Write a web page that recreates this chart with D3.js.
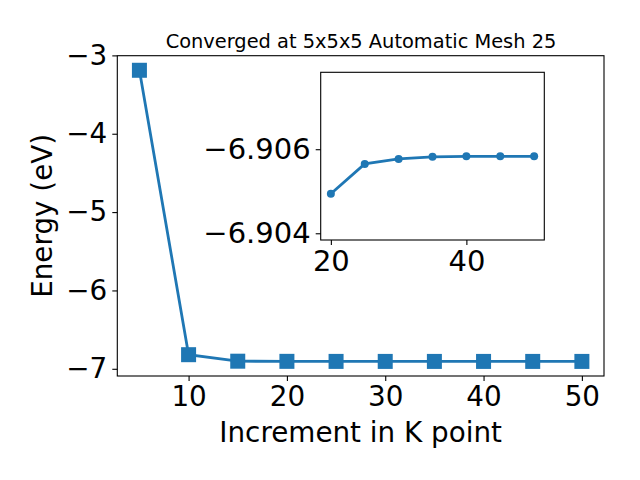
<!DOCTYPE html>
<html>
<head>
<meta charset="utf-8">
<script src="https://cdn.jsdelivr.net/npm/d3@7"></script>
<style>
body { margin: 0; background: #fff; }
text { font-family: "DejaVu Sans", sans-serif; fill: #000; }
</style>
</head>
<body>
<script>
// k-point increments and total energies
var kpoints = [5, 10, 15, 20, 25, 30, 35, 40, 45, 50];
var energy = [-3.19, -6.82, -6.903, -6.90494, -6.90565, -6.90577, -6.90582, -6.90583, -6.90583, -6.90583];

// inset: zoomed view from 20 onwards
var insetK = [20, 25, 30, 35, 40, 45, 50];
var insetE = [-6.90494, -6.90565, -6.90577, -6.90582, -6.90583, -6.90583, -6.90583];

var mainXTicks = [10, 20, 30, 40, 50];
var mainYTicks = [-7, -6, -5, -4, -3];
var insetXTicks = [20, 40];
var insetYTicks = [-6.906, -6.904];

var blue = "#1f77b4";
var W = 640, H = 480;
var fs = "27.8px";

var svg = d3.select("body").append("svg")
    .attr("width", W)
    .attr("height", H);

// main axes
var m = { left: 117.3, top: 55.7, right: 604, bottom: 376 };

var x = d3.scaleLinear().domain([2.75, 52.25]).range([m.left, m.right]);
var y = d3.scaleLinear().domain([-7.092, -3.004]).range([m.bottom, m.top]);

var fmt = function (d) { return d3.format("")(d).replace("-", "\u2212"); };

svg.append("g")
    .attr("transform", "translate(0," + m.bottom + ")")
    .call(d3.axisBottom(x).tickValues(mainXTicks).tickSize(5).tickPadding(5).tickFormat(fmt))
    .call(styleAxis, fs);

svg.append("g")
    .attr("transform", "translate(" + m.left + ",0)")
    .call(d3.axisLeft(y).tickValues(mainYTicks).tickSize(5).tickPadding(5).tickFormat(fmt))
    .call(styleAxis, fs);

svg.append("rect")
    .attr("x", m.left).attr("y", m.top)
    .attr("width", m.right - m.left).attr("height", m.bottom - m.top)
    .attr("fill", "none").attr("stroke", "#000").attr("stroke-width", 1.1);

var line = d3.line()
    .x(function (d, i) { return x(kpoints[i]); })
    .y(function (d) { return y(d); });

svg.append("path")
    .datum(energy)
    .attr("d", line)
    .attr("fill", "none")
    .attr("stroke", blue)
    .attr("stroke-width", 2.8);

svg.selectAll(".sq")
    .data(energy)
    .enter().append("rect")
    .attr("class", "sq")
    .attr("x", function (d, i) { return x(kpoints[i]) - 7.5; })
    .attr("y", function (d) { return y(d) - 7.5; })
    .attr("width", 15).attr("height", 15)
    .attr("fill", blue);

svg.append("text")
    .attr("x", (m.left + m.right) / 2)
    .attr("y", 441.5)
    .attr("text-anchor", "middle")
    .style("font-size", fs)
    .text("Increment in K point");

svg.append("text")
    .attr("transform", "translate(52," + ((m.top + m.bottom) / 2) + ") rotate(-90)")
    .attr("text-anchor", "middle")
    .style("font-size", fs)
    .text("Energy (eV)");

svg.append("text")
    .attr("x", 361)
    .attr("y", 48)
    .attr("text-anchor", "middle")
    .style("font-size", "19.4px")
    .text("Converged at 5x5x5 Automatic Mesh 25");

// inset axes (y runs downward: -6.906 above -6.904)
var ins = { left: 320.7, top: 72.3, right: 544.3, bottom: 240 };

var xi = d3.scaleLinear().domain([18.5, 51.5]).range([ins.left, ins.right]);
var yi = d3.scaleLinear().domain([-6.90783, -6.90384]).range([ins.top, ins.bottom]);

svg.append("rect")
    .attr("x", ins.left).attr("y", ins.top)
    .attr("width", ins.right - ins.left).attr("height", ins.bottom - ins.top)
    .attr("fill", "#fff").attr("stroke", "#000").attr("stroke-width", 1.1);

svg.append("g")
    .attr("transform", "translate(0," + ins.bottom + ")")
    .call(d3.axisBottom(xi).tickValues(insetXTicks).tickSize(5).tickPadding(5).tickFormat(fmt))
    .call(styleAxis, "29px");

svg.append("g")
    .attr("transform", "translate(" + ins.left + ",0)")
    .call(d3.axisLeft(yi).tickValues(insetYTicks).tickSize(5).tickPadding(5)
        .tickFormat(function (d) { return d3.format(".3f")(d).replace("-", "\u2212"); }))
    .call(styleAxis, "29px");

var lineI = d3.line()
    .x(function (d, i) { return xi(insetK[i]); })
    .y(function (d) { return yi(d); });

svg.append("path")
    .datum(insetE)
    .attr("d", lineI)
    .attr("fill", "none")
    .attr("stroke", blue)
    .attr("stroke-width", 2.8);

svg.selectAll(".dot")
    .data(insetE)
    .enter().append("circle")
    .attr("class", "dot")
    .attr("cx", function (d, i) { return xi(insetK[i]); })
    .attr("cy", function (d) { return yi(d); })
    .attr("r", 4)
    .attr("fill", blue);

function styleAxis(g, size) {
    g.select(".domain").remove();
    g.selectAll(".tick line").attr("stroke", "#000").attr("stroke-width", 1.1);
    g.selectAll(".tick text")
        .style("font-size", size)
        .attr("font-family", "DejaVu Sans");
}
</script>
</body>
</html>
